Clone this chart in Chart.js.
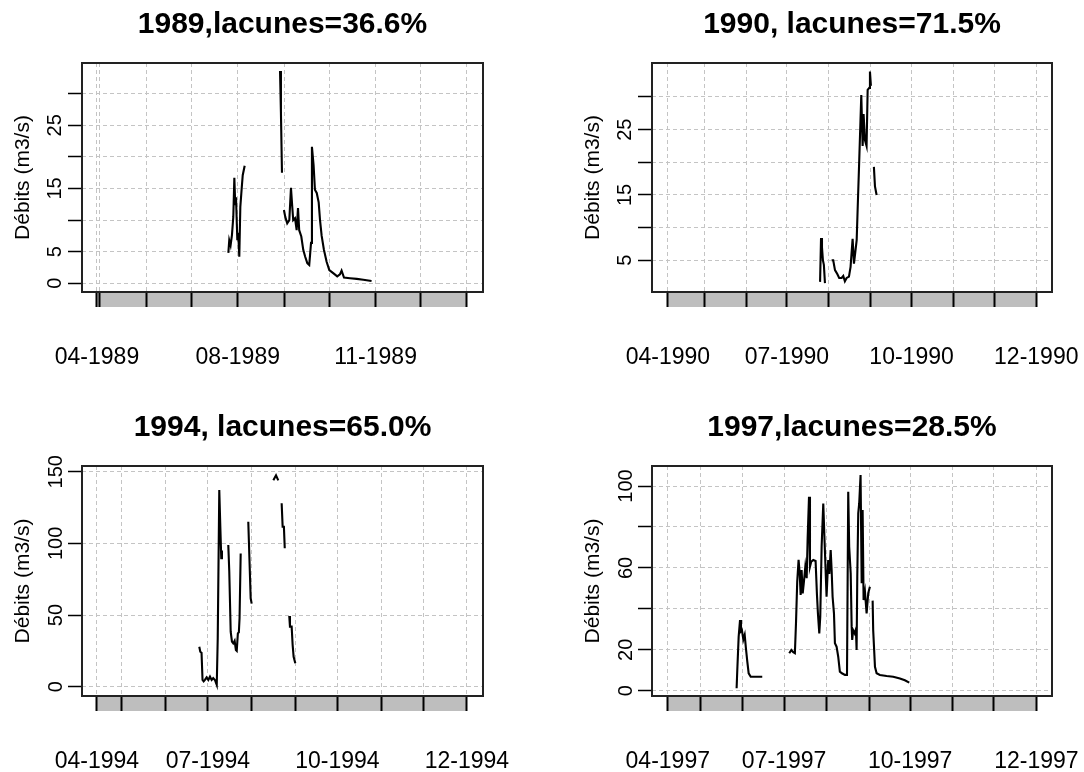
<!DOCTYPE html>
<html>
<head>
<meta charset="utf-8">
<script src="https://cdn.jsdelivr.net/npm/chart.js@4.4.1/dist/chart.umd.min.js"></script>
<style>
  body { margin: 0; background: #fff; }
  #wrap { position: relative; width: 1084px; height: 772px; }
  canvas { position: absolute; }
</style>
</head>
<body>
<div id="wrap">
  <canvas id="c1989" width="542" height="386" style="left:0;top:0"></canvas>
  <canvas id="c1990" width="542" height="386" style="left:542px;top:0"></canvas>
  <canvas id="c1994" width="542" height="386" style="left:0;top:386px"></canvas>
  <canvas id="c1997" width="542" height="386" style="left:542px;top:386px"></canvas>
</div>
<script>
// x = day of year (0 = 1 Jan, 365 = 1 Jan of next year), null = lacune
const days1989 = [205.7, 206.3, 207.2, 208.1, 209.0, 209.7, 210.3, 210.8, 211.7, 212.3, 213.0, 213.7, 214.6, 215.3, 216.6,
  228,
  240.2, 240.8, 241.5, 242.1, 242.8, 243.7, 245.0, 246.4, 247.5, 248.4, 249.0, 250.2, 251.3, 252.2, 253.0, 254.4, 255.7,
  257.0, 258.4, 259.7, 260.9, 261.5, 262.6, 263.5, 264.7, 266.0, 266.9, 268.0, 269.5, 271.3, 273.1, 275.7, 278.4, 280.2,
  281.3, 282.9, 286.9, 291.4, 295.8, 301.3];
const flow1989 = [4.8, 6.8, 6.0, 7.6, 10.5, 16.7, 12.5, 13.6, 6.8, 8.0, 4.2, 12.1, 15.0, 17.1, 18.6,
  null,
  33.6, 27.0, 17.5, null, 11.6, 10.5, 9.5, 10.0, 15.1, 12.0, 10.0, 10.3, 8.4, 11.9, 8.4, 7.4, 5.3,
  4.2, 3.2, 2.9, 6.4, 21.6, 18.7, 14.8, 14.3, 12.8, 10.0, 7.5, 5.3, 3.4, 2.1, 1.6, 1.1, 1.4,
  2.0, 0.9, 0.8, 0.7, 0.55, 0.35];

const days1990 = [205.5, 206.2, 206.9, 207.6, 208.3, 209.1,
  211,
  214.0, 215.2, 216.5, 218.2, 219.6, 221.4, 222.6, 223.8, 225.1, 226.8, 228.0, 229.5, 230.5, 232.5, 233.2, 234.4, 235.9,
  236.9, 237.6, 238.6, 239.8, 240.6, 241.8, 242.3, 243.0,
  244,
  245.2, 246.0, 247.2];
const flow1990 = [1.7, 8.4, 7.0, 5.0, 4.3, 1.5,
  null,
  5.0, 5.0, 3.5, 2.9, 2.3, 2.3, 2.6, 1.8, 2.3, 2.5, 4.0, 8.3, 4.5, 8.1, 12.7, 20.4, 30.3,
  22.5, 27.4, 23.4, 22.5, 31.1, 31.4, 33.9, 31.7,
  null,
  19.3, 16.3, 15.0];

const days1994 = [174.9, 175.6, 176.5, 177.2, 178.0, 178.9, 180.1, 181.3, 182.5, 183.7, 184.8, 186.0, 187.3, 188.0, 189.1,
  189.8, 190.5, 191.0,
  193,
  195.5, 196.2, 197.2, 198.1, 199.0, 200.0, 200.9, 201.5, 202.3, 203.0, 203.5, 204.3,
  207,
  209.7, 210.4, 211.4, 212.1,
  220,
  227.5, 229.4, 231.0,
  232,
  233.4, 234.1, 235.0, 235.6,
  237,
  238.8, 239.3, 240.5, 241.2, 241.9, 243.1];
const flow1994 = [27.9, 24.4, 23.7, 4.7, 3.7, 4.7, 6.5, 4.7, 7.0, 4.7, 6.0, 4.7, 1.2, 33.8, 137.2,
  112.8, 89.7, 95.0,
  null,
  98.9, 80.2, 38.4, 31.4, 30.2, 32.0, 25.6, 25.0, 37.2, 38.0, 47.7, 93.0,
  null,
  115.1, 93.0, 61.7, 58.0,
  null,
  144.0, 147.5, 144.0,
  null,
  128.0, 111.6, 111.6, 96.6,
  null,
  49.3, 41.9, 41.9, 29.1, 20.9, 16.3];

const days1997 = [146.4, 146.9, 147.9, 148.9, 149.6, 150.3, 151.3, 152.3, 153.2, 154.2, 155.2, 156.7, 159.8, 165.1,
  175,
  184.8, 186.3, 187.7, 188.9, 189.7, 190.6, 191.6, 192.4, 193.1, 193.8, 194.6, 195.5, 196.5, 197.5, 198.2, 199.2, 199.9,
  200.8, 202.3, 204.0, 205.0, 205.7, 206.7, 207.4, 208.4, 209.6, 210.6, 211.3, 212.0, 213.2, 214.0, 215.0, 215.7, 216.4,
  217.4, 218.1, 219.3, 220.5, 221.7, 223.2, 225.4, 226.9, 227.8, 228.5, 229.6, 230.3, 230.7, 231.4, 232.5, 233.4, 233.9,
  234.4, 235.1, 235.8, 236.8, 237.6, 238.3, 239.0, 240.0, 241.2, 242.4, 243.6,
  244.6,
  245.6, 246.0, 247.3, 248.5, 250.9, 255.8, 260.6, 265.5, 269.1, 272.3];
const flow1997 = [1.2, 10.1, 26.4, 34.5, 29.0, 29.5, 25.0, 27.3, 20.7, 14.2, 8.5, 6.8, 6.8, 6.8,
  null,
  18.3, 19.9, 18.8, 18.3, 32.9, 53.3, 63.9, 57.4, 46.8, 59.0, 47.6, 53.3, 60.6, 55.0, 74.4, 94.8, 60.6,
  63.0, 63.9, 63.4, 46.8, 37.8, 28.0, 36.2, 70.3, 91.5, 72.0, 59.0, 45.9, 63.9, 57.0, 68.7, 59.0, 45.9,
  37.8, 23.2, 21.5, 16.6, 9.3, 8.5, 7.7, 7.7, 97.2, 70.3, 57.4, 31.3, 24.8, 29.6, 28.0, 30.0, 19.9,
  55.7, 86.7, 91.5, 105.4, 52.5, 88.3, 44.3, 48.4, 37.8, 47.6, 50.8,
  null,
  44.0, 29.6, 11.7, 8.5, 7.7, 7.2, 6.8, 6.0, 5.1, 3.9];

// month starts 1 May .. 1 Jan, first tick = first day of the series
const monthStarts = [120, 151, 181, 212, 243, 273, 304, 334, 365];
const xTicks1989 = [118, ...monthStarts];
const xTicks1990 = [93.2, ...monthStarts];
const xTicks1994 = [102.2, ...monthStarts];
const xTicks1997 = [96.2, ...monthStarts];
const xLabels1989 = ['04-1989', '', '', '', '08-1989', '', '', '11-1989', '', ''];
const xLabels1990 = ['04-1990', '', '', '07-1990', '', '', '10-1990', '', '', '12-1990'];
const xLabels1994 = ['04-1994', '', '', '07-1994', '', '', '10-1994', '', '', '12-1994'];
const xLabels1997 = ['04-1997', '', '', '07-1997', '', '', '10-1997', '', '', '12-1997'];

const yTicks1989 = [0, 5, 10, 15, 20, 25, 30];
const yLabels1989 = ['0', '5', '', '15', '', '25', ''];
const yTicks1990 = [5, 10, 15, 20, 25, 30];
const yLabels1990 = ['5', '', '15', '', '25', ''];
const yTicks1994 = [0, 50, 100, 150];
const yLabels1994 = ['0', '50', '100', '150'];
const yTicks1997 = [0, 20, 40, 60, 80, 100];
const yLabels1997 = ['0', '20', '', '60', '', '100'];

const FONT = "'Liberation Sans', Arial, sans-serif";
const GRID = '#c4c4c4';
const XH = 76; // height of the x axis box (gray strip + labels)

// gray strip under the axis + the box around the plot region
const frame = {
  id: 'frame',
  beforeDraw(chart) {
    const { ctx, chartArea: a, scales: { x } } = chart;
    const t = x.ticks;
    const x0 = x.getPixelForValue(t[0].value);
    const x1 = x.getPixelForValue(t[t.length - 1].value);
    ctx.save();
    ctx.fillStyle = '#bebebe';
    ctx.fillRect(x0, a.bottom, x1 - x0, 15);
    ctx.restore();
  },
  afterDraw(chart) {
    const { ctx, chartArea: a } = chart;
    ctx.save();
    ctx.strokeStyle = '#222';
    ctx.lineWidth = 2;
    ctx.strokeRect(a.left, a.top, a.right - a.left, a.bottom - a.top);
    ctx.restore();
  }
};

function drawPanel(id, p) {
  const [l, t, r, b] = p.box;
  new Chart(document.getElementById(id), {
    type: 'line',
    data: {
      datasets: [{
        data: p.days.map((d, i) => ({ x: d, y: p.flow[i] })),
        borderColor: '#000',
        borderWidth: 2.1,
        pointRadius: 0,
        tension: 0,
        spanGaps: false
      }]
    },
    plugins: [frame],
    options: {
      responsive: false,
      animation: false,
      events: [],
      layout: { padding: { left: l - 75, top: t - 62.5, right: 542 - r, bottom: 386 - b - XH } },
      plugins: {
        legend: { display: false },
        tooltip: { enabled: false },
        title: {
          display: true,
          fullSize: false,
          text: p.title,
          color: '#000',
          font: { family: FONT, size: 30, weight: 'bold' },
          padding: { top: 6, bottom: 20.5 }
        }
      },
      scales: {
        x: {
          type: 'linear',
          min: p.xMin,
          max: p.xMax,
          afterBuildTicks: s => { s.ticks = p.xTicks.map(v => ({ value: v })); },
          afterFit: s => { s.height = XH; s.paddingLeft = 0; s.paddingRight = 0; },
          grid: { color: GRID, lineWidth: 1, tickLength: 15, tickColor: '#000', tickWidth: 2, tickBorderDash: [] },
          border: { display: false, dash: [4, 3] },
          ticks: {
            autoSkip: false, maxRotation: 0, padding: 37, color: '#000',
            font: { family: FONT, size: 23 },
            callback: (v, i) => p.xLabels[i]
          }
        },
        y: {
          min: p.yMin,
          max: p.yMax,
          afterBuildTicks: s => { s.ticks = p.yTicks.map(v => ({ value: v })); },
          afterFit: s => { s.width = 75; s.paddingTop = 0; s.paddingBottom = 0; },
          grid: { color: GRID, lineWidth: 1, tickLength: 14, tickColor: '#000', tickWidth: 1.5, tickBorderDash: [] },
          border: { display: false, dash: [4, 3] },
          ticks: {
            minRotation: 90, maxRotation: 90, crossAlign: 'center', padding: p.yPad, color: '#000',
            font: { family: FONT, size: 20 },
            callback: (v, i) => p.yLabels[i]
          },
          title: {
            display: true, text: 'Débits (m3/s)', color: '#000',
            font: { family: FONT, size: 21 },
            padding: { top: 4, bottom: 0 }
          }
        }
      }
    }
  });
}

drawPanel('c1989', {
  title: '1989,lacunes=36.6%', days: days1989, flow: flow1989,
  xTicks: xTicks1989, xLabels: xLabels1989, yTicks: yTicks1989, yLabels: yLabels1989,
  xMin: 108, xMax: 375.7, yMin: -1.38, yMax: 34.86, box: [82, 63, 483, 292], yPad: 0.9
});
drawPanel('c1990', {
  title: '1990, lacunes=71.5%', days: days1990, flow: flow1990,
  xTicks: xTicks1990, xLabels: xLabels1990, yTicks: yTicks1990, yLabels: yLabels1990,
  xMin: 81.5, xMax: 376.6, yMin: 0.15, yMax: 35.2, box: [110, 63, 510, 292], yPad: 0.9
});
drawPanel('c1994', {
  title: '1994, lacunes=65.0%', days: days1994, flow: flow1994,
  xTicks: xTicks1994, xLabels: xLabels1994, yTicks: yTicks1994, yLabels: yLabels1994,
  xMin: 91.6, xMax: 376.4, yMin: -6.5, yMax: 154, box: [82, 80, 483, 310], yPad: -4.7
});
drawPanel('c1997', {
  title: '1997,lacunes=28.5%', days: days1997, flow: flow1997,
  xTicks: xTicks1997, xLabels: xLabels1997, yTicks: yTicks1997, yLabels: yLabels1997,
  xMin: 84.7, xMax: 376.4, yMin: -2.6, yMax: 109.8, box: [110, 80, 510, 310], yPad: -4.7
});
</script>
</body>
</html>
